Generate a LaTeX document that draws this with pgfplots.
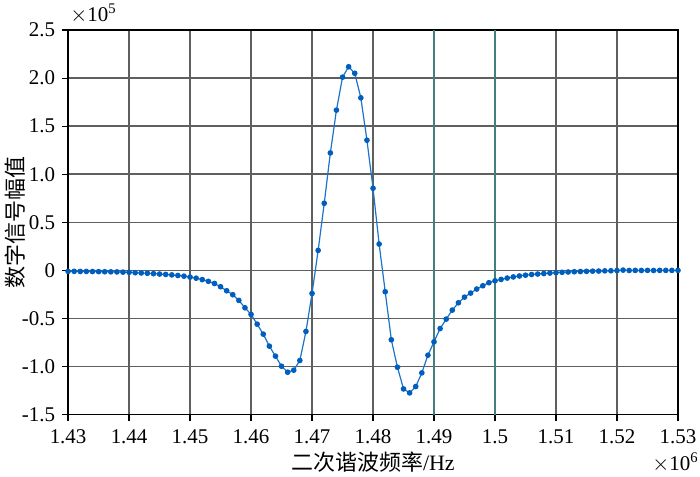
\documentclass[border=0pt]{standalone}
\usepackage{fontspec}
\setmainfont{Liberation Serif}
\newfontfamily\cjk{Noto Sans CJK SC}
\usepackage{pgfplots}
\pgfplotsset{compat=1.18}
\definecolor{lineblue}{RGB}{30,115,200}
\definecolor{markblue}{RGB}{0,95,190}
\definecolor{gridgray}{RGB}{95,95,95}
\definecolor{gridteal}{RGB}{70,125,125}

% x in MHz, y in units of 1e5
\pgfplotstableread{
f y
1.430 -0.010
1.431 -0.010
1.432 -0.011
1.433 -0.011
1.434 -0.012
1.435 -0.013
1.436 -0.014
1.437 -0.015
1.438 -0.016
1.439 -0.018
1.440 -0.020
1.441 -0.024
1.442 -0.027
1.443 -0.030
1.444 -0.034
1.445 -0.038
1.446 -0.042
1.447 -0.047
1.448 -0.053
1.449 -0.060
1.450 -0.070
1.451 -0.081
1.452 -0.096
1.453 -0.114
1.454 -0.136
1.455 -0.170
1.456 -0.212
1.457 -0.253
1.458 -0.312
1.459 -0.389
1.460 -0.458
1.461 -0.559
1.462 -0.663
1.463 -0.788
1.464 -0.892
1.465 -0.997
1.466 -1.059
1.467 -1.038
1.468 -0.937
1.469 -0.635
1.470 -0.240
1.471 0.208
1.472 0.698
1.473 1.222
1.474 1.667
1.475 2.010
1.476 2.118
1.477 2.050
1.478 1.795
1.479 1.354
1.480 0.854
1.481 0.274
1.482 -0.222
1.483 -0.722
1.484 -1.007
1.485 -1.233
1.486 -1.274
1.487 -1.208
1.488 -1.066
1.489 -0.882
1.490 -0.743
1.491 -0.605
1.492 -0.507
1.493 -0.413
1.494 -0.337
1.495 -0.278
1.496 -0.236
1.497 -0.194
1.498 -0.160
1.499 -0.128
1.500 -0.108
1.501 -0.094
1.502 -0.080
1.503 -0.068
1.504 -0.058
1.505 -0.050
1.506 -0.043
1.507 -0.038
1.508 -0.033
1.509 -0.028
1.510 -0.024
1.511 -0.020
1.512 -0.017
1.513 -0.014
1.514 -0.012
1.515 -0.010
1.516 -0.008
1.517 -0.007
1.518 -0.005
1.519 -0.004
1.520 -0.002
1.521 0.003
1.522 -0.001
1.523 0.000
1.524 -0.001
1.525 0.000
1.526 -0.001
1.527 0.000
1.528 0.000
1.529 0.000
1.530 0.000
}\signal

\begin{document}
\begin{tikzpicture}
\path[use as bounding box] (-34bp,-31bp) rectangle (315.5bp,207bp);
\begin{axis}[
  at={(0,0)}, anchor=south west,
  scale only axis, width=304.5bp, height=192bp,
  xmin=1.43, xmax=1.53, ymin=-1.5, ymax=2.5,
  xtick={1.43,1.44,...,1.531}, ytick={-1.5,-1,...,2.5},
  xticklabels={1.43,1.44,1.45,1.46,1.47,1.48,1.49,1.5,1.51,1.52,1.53},
  yticklabels={-1.5,-1.0,-0.5,0,0.5,1.0,1.5,2.0,2.5},
  xtick pos=bottom, ytick pos=left, tick align=outside,
  major tick length=3bp,
  tick label style={font=\fontsize{10.5}{12}\selectfont},
  xticklabel style={yshift=-1bp},
  grid=major, grid style={gridgray, line width=0.75bp},
  axis line style={black, line width=0.6bp},
  every tick/.style={black, line width=0.6bp},
  xlabel={\cjk\fontsize{11}{13}\selectfont 二次谐波频率\rmfamily/Hz},
  xlabel style={yshift=3bp},
  clip=false,
]
  \draw[gridteal, line width=0.75bp] (axis cs:1.49,-1.5) -- (axis cs:1.49,2.5);
  \draw[gridteal, line width=0.75bp] (axis cs:1.50,-1.5) -- (axis cs:1.50,2.5);
  \addplot[lineblue, line width=0.6bp, mark=*, mark size=1.1bp,
    mark options={markblue, fill=markblue, draw=markblue}] table[x=f, y=y] {\signal};
  \node[anchor=south west, font=\fontsize{10.5}{12}\selectfont, inner sep=0pt]
    at (rel axis cs:0,1) [xshift=1bp, yshift=3bp] {$\times$10\textsuperscript{5}};
  \node[anchor=north east, font=\fontsize{10.5}{12}\selectfont, inner sep=0pt]
    at (rel axis cs:1,0) [xshift=10.5bp, yshift=-19bp] {$\times$10\textsuperscript{6}};
  \node[xshift=-26.5bp, rotate=90, anchor=center, inner sep=0pt]
    at (rel axis cs:0,0.5) {\cjk\fontsize{11}{13}\selectfont 数字信号幅值};
\end{axis}
\end{tikzpicture}
\end{document}
